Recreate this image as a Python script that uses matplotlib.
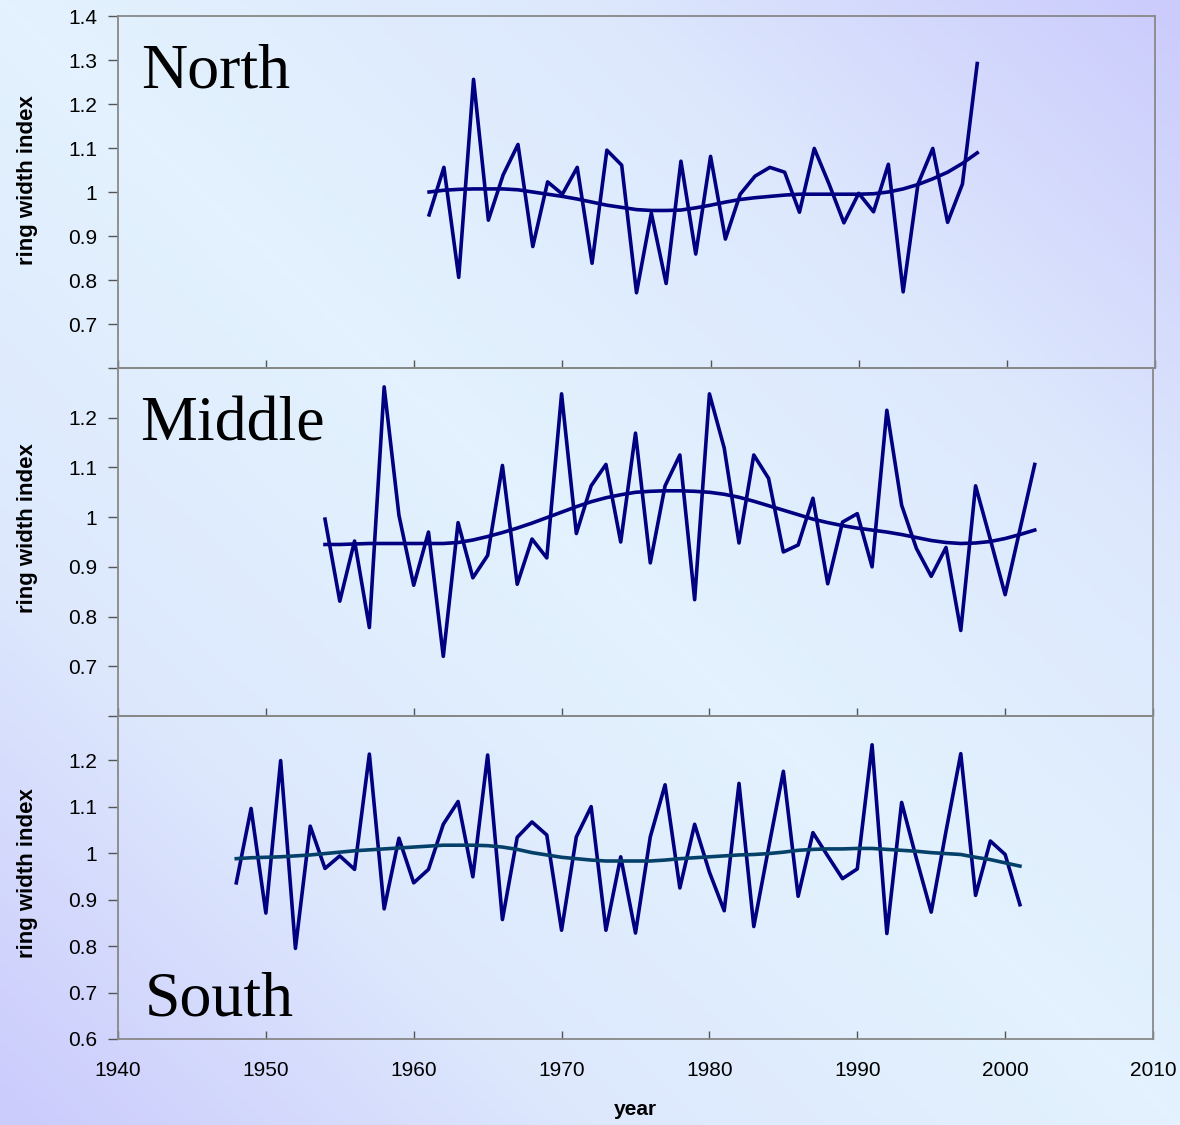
import numpy as np
import matplotlib
matplotlib.use('Agg')
import matplotlib.pyplot as plt
from matplotlib.colors import LinearSegmentedColormap

plt.rcParams['font.family'] = ['Liberation Sans', 'DejaVu Sans']

# ring width index, one value per year
north_start = 1961
north_rwi = [0.948, 1.056, 0.806, 1.256, 0.936, 1.039, 1.108, 0.876, 1.023, 0.995,
             1.056, 0.838, 1.095, 1.061, 0.771, 0.952, 0.792, 1.070, 0.859, 1.081,
             0.893, 0.995, 1.036, 1.056, 1.045, 0.954, 1.099, 1.018, 0.930, 0.997,
             0.955, 1.063, 0.773, 1.018, 1.099, 0.931, 1.018, 1.292]
north_smooth = [1.000, 1.004, 1.006, 1.007, 1.007, 1.007, 1.005, 1.000, 0.995, 0.990,
                0.984, 0.977, 0.970, 0.965, 0.960, 0.958, 0.958, 0.959, 0.964, 0.970,
                0.977, 0.983, 0.987, 0.990, 0.993, 0.995, 0.995, 0.995, 0.995, 0.995,
                0.996, 1.000, 1.007, 1.017, 1.030, 1.045, 1.065, 1.089]

middle_start = 1954
middle_rwi = [0.996, 0.831, 0.952, 0.778, 1.262, 1.004, 0.863, 0.970, 0.720, 0.989,
              0.878, 0.923, 1.104, 0.865, 0.956, 0.918, 1.248, 0.967, 1.063, 1.106,
              0.950, 1.169, 0.908, 1.063, 1.125, 0.834, 1.248, 1.139, 0.948, 1.125,
              1.078, 0.930, 0.944, 1.038, 0.866, 0.990, 1.007, 0.900, 1.215, 1.024,
              0.937, 0.881, 0.939, 0.772, 1.063, 0.955, 0.844, 0.975, 1.106]
middle_smooth = [0.945, 0.945, 0.946, 0.947, 0.947, 0.947, 0.947, 0.947, 0.947, 0.949,
                 0.954, 0.961, 0.969, 0.978, 0.988, 0.999, 1.010, 1.021, 1.031, 1.039,
                 1.045, 1.050, 1.052, 1.053, 1.053, 1.052, 1.050, 1.046, 1.040, 1.032,
                 1.023, 1.014, 1.005, 0.996, 0.989, 0.983, 0.978, 0.974, 0.970, 0.965,
                 0.959, 0.953, 0.949, 0.947, 0.948, 0.951, 0.957, 0.965, 0.974]

south_start = 1948
south_rwi = [0.936, 1.096, 0.871, 1.199, 0.795, 1.058, 0.967, 0.994, 0.965, 1.213,
             0.880, 1.032, 0.936, 0.965, 1.062, 1.111, 0.949, 1.211, 0.857, 1.034,
             1.067, 1.039, 0.834, 1.035, 1.100, 0.834, 0.992, 0.828, 1.035, 1.147,
             0.925, 1.062, 0.959, 0.876, 1.150, 0.842, 1.011, 1.176, 0.907, 1.044,
             0.994, 0.945, 0.966, 1.233, 0.827, 1.109, 0.988, 0.873, 1.047, 1.214,
             0.909, 1.026, 0.997, 0.889]
south_smooth = [0.988, 0.990, 0.991, 0.992, 0.994, 0.996, 0.999, 1.002, 1.005, 1.007,
                1.009, 1.011, 1.013, 1.015, 1.017, 1.017, 1.017, 1.016, 1.013, 1.008,
                1.001, 0.996, 0.991, 0.988, 0.985, 0.983, 0.983, 0.983, 0.983, 0.985,
                0.988, 0.990, 0.992, 0.994, 0.996, 0.997, 0.999, 1.002, 1.006, 1.008,
                1.009, 1.009, 1.010, 1.010, 1.008, 1.006, 1.004, 1.001, 0.999, 0.997,
                0.991, 0.986, 0.979, 0.972]

x_ticks = [1940, 1950, 1960, 1970, 1980, 1990, 2000, 2010]

W, H = 1180, 1125
fig = plt.figure(figsize=(W / 100, H / 100), dpi=100)

# background: light along the main diagonal, lavender in the other corners
bg = fig.add_axes([0, 0, 1, 1], zorder=-10)
u = np.linspace(0, 1, 300)
U, V = np.meshgrid(u, u)
grad = np.abs(U - V)
cmap = LinearSegmentedColormap.from_list('bg', ['#e3f2fe', '#dde8fd', '#cbcbfc'])
bg.imshow(grad, cmap=cmap, aspect='auto', extent=[0, 1, 0, 1], origin='upper')
bg.axis('off')

line_col = '#000080'
spine_col = '#888888'

# (top px, bottom px, right px, ylim, yticks, name, text baseline, text x,
#  start year, data, smooth, smooth colour, ylabel y)
panels = [
    (16, 368, 1155, (0.6, 1.4), np.arange(0.6, 1.41, 0.1), 'North', 88, 141,
     north_start, north_rwi, north_smooth, line_col, 0.534),
    (368, 716, 1153, (0.6, 1.3), np.arange(0.6, 1.21, 0.1), 'Middle', 440, 140,
     middle_start, middle_rwi, middle_smooth, line_col, 0.54),
    (716, 1039, 1153, (0.6, 1.295), np.arange(0.6, 1.21, 0.1), 'South', 1015, 145,
     south_start, south_rwi, south_smooth, '#05406a', 0.514),
]

left_px = 118
for top, bot, right, ylim, yt, name, base, tx, start, rwi, smooth, scol, ly in panels:
    ax = fig.add_axes([left_px / W, 1 - bot / H, (right - left_px) / W, (bot - top) / H])
    ax.set_facecolor('none')
    yrs = np.arange(start, start + len(rwi))
    ax.plot(yrs, rwi, color=line_col, lw=2.6)
    ax.plot(yrs, smooth, color=scol, lw=2.6)
    ax.set_xlim(1940, 2010)
    ax.set_ylim(*ylim)
    ax.set_xticks(x_ticks)
    ax.set_yticks(yt)
    labels = []
    for t in yt:
        if name != 'South' and abs(t - 0.6) < 1e-6:
            labels.append('')
        elif abs(t - 1) < 1e-6:
            labels.append('1')
        else:
            labels.append('%.1f' % t)
    ax.set_yticklabels(labels)
    for s in ax.spines.values():
        s.set_color(spine_col)
        s.set_linewidth(1.3)
    ax.tick_params(axis='y', direction='out', length=7, width=1, color='#555555',
                   labelsize=15, pad=8)
    ax.tick_params(axis='x', direction='in', length=6, width=1, color='#555555',
                   labelsize=15, pad=16)
    if name != 'South':
        ax.tick_params(axis='x', labelbottom=False)
    else:
        ax.set_xlabel('year', fontsize=15, fontweight='bold', labelpad=14)
    ax.set_ylabel('ring width index', fontsize=16, fontweight='bold')
    ax.yaxis.set_label_coords((38 - left_px) / (right - left_px), ly)
    fig.text(tx / W, 1 - base / H, name, family='Liberation Serif', fontsize=46,
             va='baseline', ha='left')

fig.savefig('out.png', dpi=100)
